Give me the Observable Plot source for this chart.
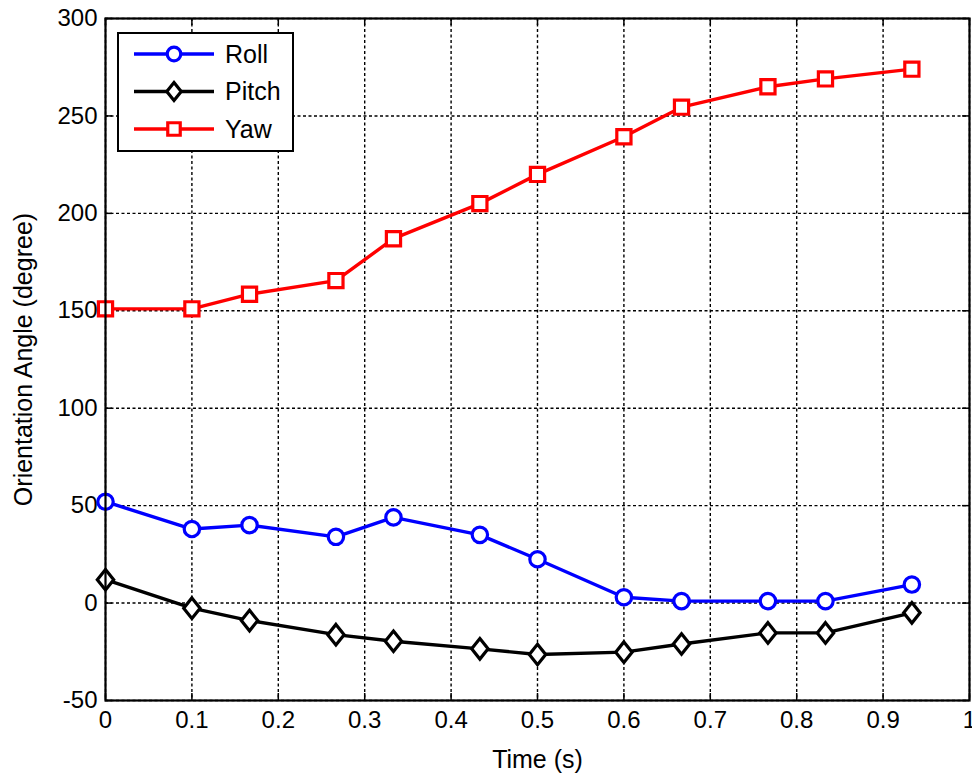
<!DOCTYPE html>
<html>
<head>
<meta charset="utf-8">
<script src="https://cdn.jsdelivr.net/npm/d3@7"></script>
<script src="https://cdn.jsdelivr.net/npm/@observablehq/plot@0.6"></script>
<style>
  html, body { margin: 0; padding: 0; background: white; }
  #wrap { position: relative; width: 972px; height: 773px; font-family: "Liberation Sans", Arial, sans-serif; }
  #legend { position: absolute; left: 117px; top: 32px; width: 173px; height: 116px; border: 2px solid black; background: white; }
</style>
</head>
<body>
<div id="wrap"><div id="chart"></div><div id="legend"></div></div>
<script>
// ---- data ----
const time  = [0, 0.1, 0.1667, 0.2667, 0.3333, 0.4333, 0.5, 0.6, 0.6667, 0.7667, 0.8333, 0.9333];
const roll  = [52, 38, 40, 34, 44, 35, 22.5, 3, 1, 1, 1, 9.5];
const pitch = [12, -2.6, -9, -16.2, -19.6, -23.5, -26.4, -25.2, -21, -15.3, -15.3, -5];
const yaw   = [151, 151, 158.5, 165.5, 187, 205, 220, 239.3, 254.5, 265, 269, 274];
const seriesNames  = ["Roll", "Pitch", "Yaw"];
const seriesColors = ["#0000ff", "#000000", "#ff0000"];
const xTicks = [0, 0.1, 0.2, 0.3, 0.4, 0.5, 0.6, 0.7, 0.8, 0.9, 1];
const xTickLabels = ["0", "0.1", "0.2", "0.3", "0.4", "0.5", "0.6", "0.7", "0.8", "0.9", "1"];
const yTicks = [-50, 0, 50, 100, 150, 200, 250, 300];
const yTickLabels = ["-50", "0", "50", "100", "150", "200", "250", "300"];
const xLabel = "Time (s)";
const yLabel = "Orientation Angle (degree)";

// ---- layout ----
const W = 972, H = 773, mL = 105, mR = 3, mT = 18, mB = 73;
const frameW = W - mL - mR, frameH = H - mT - mB, tickLen = 7;

// ---- symbols ----
const matlabDiamond = {
  draw(ctx, size) {
    const r = Math.sqrt(size / Math.PI);
    ctx.moveTo(0, -r * 1.25); ctx.lineTo(r, 0); ctx.lineTo(0, r * 1.25); ctx.lineTo(-r, 0); ctx.closePath();
  }
};
const symbols = [
  {symbol: "circle", r: 7.7},
  {symbol: matlabDiamond, r: 8.2},
  {symbol: "square", r: 8}
];
const valueSets = [roll, pitch, yaw];
const series = seriesNames.map((name, k) => ({
  name, color: seriesColors[k], ...symbols[k],
  rows: time.map((t, i) => ({t, v: valueSets[k][i]}))
}));

const fmtX = d => xTickLabels[xTicks.indexOf(d)];
const fmtY = d => yTickLabels[yTicks.indexOf(d)];
const gridStyle = {stroke: "black", strokeOpacity: 1, strokeWidth: 1.4, strokeDasharray: "3,2.5"};
const tickStyle = {stroke: "black", strokeWidth: 1.5};

const marks = [
  Plot.gridX(xTicks, gridStyle),
  Plot.gridY(yTicks, gridStyle),
  Plot.tickX(xTicks, {x: d => d, insetTop: frameH - tickLen, ...tickStyle}),
  Plot.tickX(xTicks, {x: d => d, insetBottom: frameH - tickLen, ...tickStyle}),
  Plot.tickY(yTicks, {y: d => d, insetRight: frameW - tickLen, ...tickStyle}),
  Plot.tickY(yTicks, {y: d => d, insetLeft: frameW - tickLen, ...tickStyle})
];
for (const s of series) {
  marks.push(Plot.line(s.rows, {x: "t", y: "v", stroke: s.color, strokeWidth: 3.4, strokeLinejoin: "round"}));
  marks.push(Plot.dot(s.rows, {x: "t", y: "v", symbol: s.symbol, r: s.r, stroke: s.color, strokeWidth: 3.2, fill: "white"}));
}
marks.push(
  Plot.frame({stroke: "black", strokeWidth: 2.2}),
  Plot.axisX(xTicks, {anchor: "bottom", tickSize: 0, tickPadding: 10, tickFormat: fmtX, fontSize: 24, fill: "black"}),
  Plot.axisY(yTicks, {anchor: "left", tickSize: 0, tickPadding: 8, tickFormat: fmtY, fontSize: 24, fill: "black"}),
  Plot.text([xLabel], {frameAnchor: "bottom", dy: 59, textAnchor: "middle", lineAnchor: "middle", fontSize: 25, fill: "black"}),
  Plot.text([yLabel], {frameAnchor: "left", dx: -82, rotate: -90, textAnchor: "middle", lineAnchor: "middle", fontSize: 25, fill: "black"})
);

const chart = Plot.plot({
  width: W, height: H,
  marginLeft: mL, marginRight: mR, marginTop: mT, marginBottom: mB,
  style: {fontFamily: '"Liberation Sans", Arial, sans-serif', fontSize: "24px", color: "black", background: "white"},
  x: {domain: [0, 1], label: null},
  y: {domain: [-50, 300], label: null},
  marks
});
document.getElementById("chart").appendChild(chart);

// ---- legend (overlay inside the axes) ----
const leg = d3.select("#legend");
const lsvg = leg.append("svg").attr("width", 173).attr("height", 116)
  .style("font-family", '"Liberation Sans", Arial, sans-serif');
const symMap = {circle: d3.symbolCircle, square: d3.symbolSquare};
series.forEach((s, i) => {
  const y = 20 + i * 37.5;
  const g = lsvg.append("g").attr("transform", `translate(0,${y})`);
  g.append("line").attr("x1", 15).attr("x2", 95).attr("stroke", s.color).attr("stroke-width", 3.4);
  const r = s.r * 0.88;
  const sym = typeof s.symbol === "string" ? symMap[s.symbol] : s.symbol;
  g.append("path").attr("transform", "translate(55,0)")
    .attr("d", d3.symbol(sym, Math.PI * r * r)())
    .attr("fill", "white").attr("stroke", s.color).attr("stroke-width", 3.2);
  g.append("text").attr("x", 106).attr("dy", "0.35em").attr("font-size", 25).attr("fill", "black").text(s.name);
});
</script>
</body>
</html>
